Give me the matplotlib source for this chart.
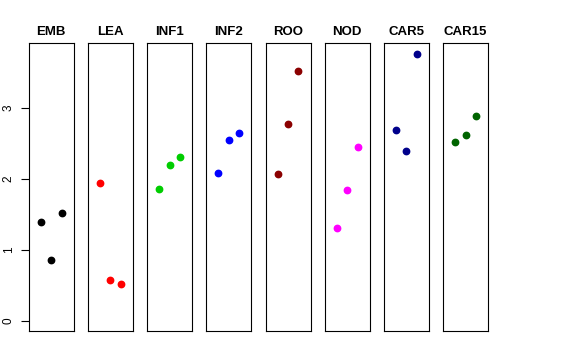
import matplotlib
matplotlib.use("Agg")
import matplotlib.pyplot as plt

plt.rcParams["font.family"] = ["Liberation Sans", "DejaVu Sans"]

groups = ["EMB", "LEA", "INF1", "INF2", "ROO", "NOD", "CAR5", "CAR15"]
colors = ["black", "red", "#00CD00", "blue", "#8B0000", "magenta", "#00008B", "#006400"]
positions = [1, 2, 3]
values = [
  [1.39, 0.86, 1.52],
  [1.94, 0.58, 0.52],
  [1.85, 2.19, 2.31],
  [2.08, 2.55, 2.64],
  [2.07, 2.77, 3.51],
  [1.30, 1.84, 2.45],
  [2.68, 2.39, 3.76],
  [2.51, 2.61, 2.88],
]

W, H = 576, 360
fig = plt.figure(figsize=(W / 100, H / 100), dpi=100)

top_px, bottom_px = 43.3, 331.0
panel_w = 45.0
step = 59.2
left0 = 28.7

for i, (name, col, vals) in enumerate(zip(groups, colors, values)):
  left = left0 + i * step
  ax = fig.add_axes([left / W, (H - bottom_px) / H, panel_w / W, (bottom_px - top_px) / H])
  ax.plot(positions, vals, linestyle="none", marker="o", color=col, markersize=4.6)
  ax.set_xlim(-0.16, 4.16)
  ax.set_ylim(-0.145, 3.907)
  ax.set_xticks([])
  ax.set_title(name, fontsize=9.5, fontweight="bold", pad=6)
  for s in ax.spines.values():
    s.set_linewidth(0.8)
    s.set_color("black")
  if i == 0:
    ax.set_yticks([0, 1, 2, 3])
    ax.tick_params(axis="y", length=6, width=0.8, pad=4, labelsize=8.5)
    for lab in ax.get_yticklabels():
      lab.set_rotation(90)
      lab.set_verticalalignment("center")
  else:
    ax.set_yticks([])

fig.savefig("out.png", dpi=100)
